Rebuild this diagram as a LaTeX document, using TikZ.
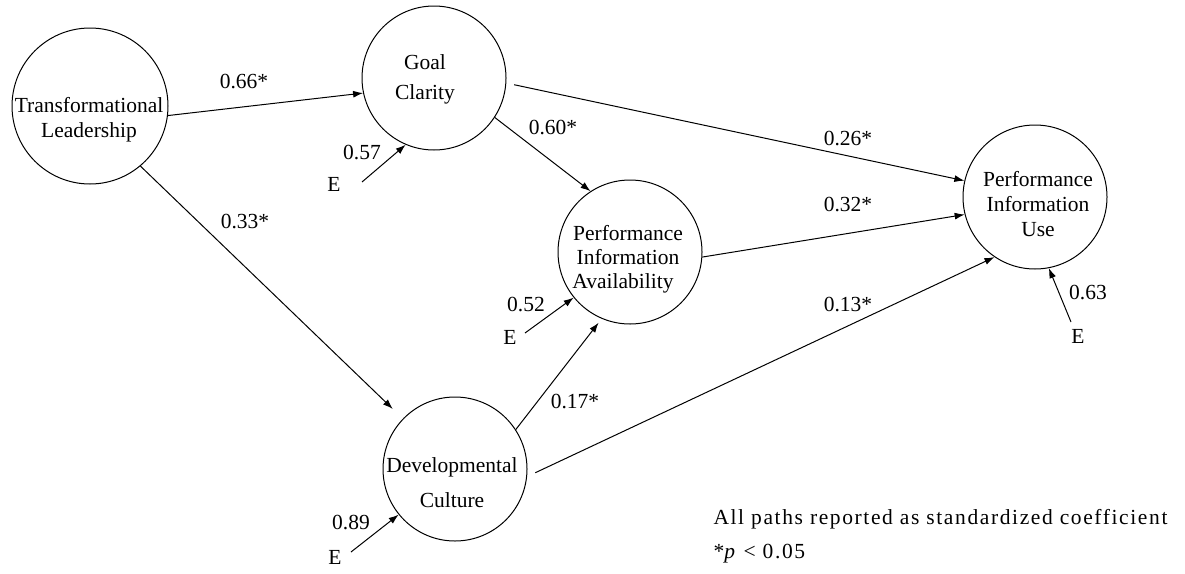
\documentclass[tikz,border=0pt]{standalone}
\usepackage{fontspec}
\setmainfont{Liberation Serif}
\usetikzlibrary{arrows.meta}
\begin{document}
\begin{tikzpicture}[x=1pt, y=-1pt, line width=1pt,
   font=\fontsize{21.5}{25}\selectfont,
   latent/.style={draw, circle, inner sep=0pt, minimum size=144pt},
   lbltxt/.style={align=center, inner sep=0pt, font=\fontsize{21.5}{#1}\selectfont},
   coef/.style={inner sep=0pt},
   note/.style={anchor=base west, inner sep=0pt, font=\fontsize{21.5}{25}\selectfont\addfontfeatures{LetterSpace=7.5}},
   arr/.style={-{Latex[length=10pt,width=7pt]}}]
   \useasboundingbox (0,0) rectangle (1185,573);
   \node[latent, minimum size=156pt] (TL) at (90,106) {};
   \node[latent] (GC)  at (434,78)   {};
   \node[latent] (PIA) at (630,252)  {};
   \node[latent] (DC)  at (455,469)  {};
   \node[latent] (PIU) at (1035,197) {};
   \node[lbltxt=25] (TLt)  at (89,119.5)   {Transformational\\Leadership};
   \node[lbltxt=30] (GCt)  at (425,79.5)   {Goal\\Clarity};
   \node[lbltxt=24] (PIAt) at (628,259.5)  {Performance\\Information\\Availability\hspace*{10pt}};
   \node[lbltxt=35] (DCt)  at (452,482.5)  {Developmental\\Culture};
   \node[lbltxt=25] (PIUt) at (1038,204.5) {Performance\\Information\\Use};
   \node[coef] (c1) at (244,82)  {0.66*};
   \node[coef] (c2) at (245,221) {0.33*};
   \node[coef] (c3) at (553,128) {0.60*};
   \node[coef] (c4) at (848,139) {0.26*};
   \node[coef] (c5) at (848,204) {0.32*};
   \node[coef] (c6) at (848,304) {0.13*};
   \node[coef] (c7) at (575,401) {0.17*};
   \node[coef] (r1) at (362,152)  {0.57};
   \node[coef] (r2) at (526,304)  {0.52};
   \node[coef] (r3) at (351,522)  {0.89};
   \node[coef] (r4) at (1088,292) {0.63};
   \node[coef] (E1) at (334,184)  {E};
   \node[coef] (E2) at (510,337)  {E};
   \node[coef] (E3) at (335,557)  {E};
   \node[coef] (E4) at (1078,336) {E};
   \coordinate (t1) at (362,182);
   \coordinate (t2) at (525,333);
   \coordinate (t3) at (351,552);
   \coordinate (t4) at (1071,322);
   \path[arr]
     (TL.-7)  edge (GC.192)
     (TL.-50) edge[shorten >=14pt] (DC.136)
     (GC.-33) edge (PIA.123)
     (GC.-4)  edge[shorten <=8pt] (PIU.167)
     (PIA.-4) edge (PIU.194)
     (DC.-6)  edge[shorten <=9pt] (PIU.236)
     (DC.33)  edge[shorten >=5pt] (PIA.247);
   \path[arr]
     (t1) edge (GC.247)
     (t2) edge (PIA.219)
     (t3) edge (DC.219)
     (t4) edge (PIU.-79);
   \node[note] (note1) at (713,524) {All paths reported as standardized coefficient};
   \node[note] (note2) at (713,558) {*\textit{p} < 0.05};
\end{tikzpicture}
\end{document}
